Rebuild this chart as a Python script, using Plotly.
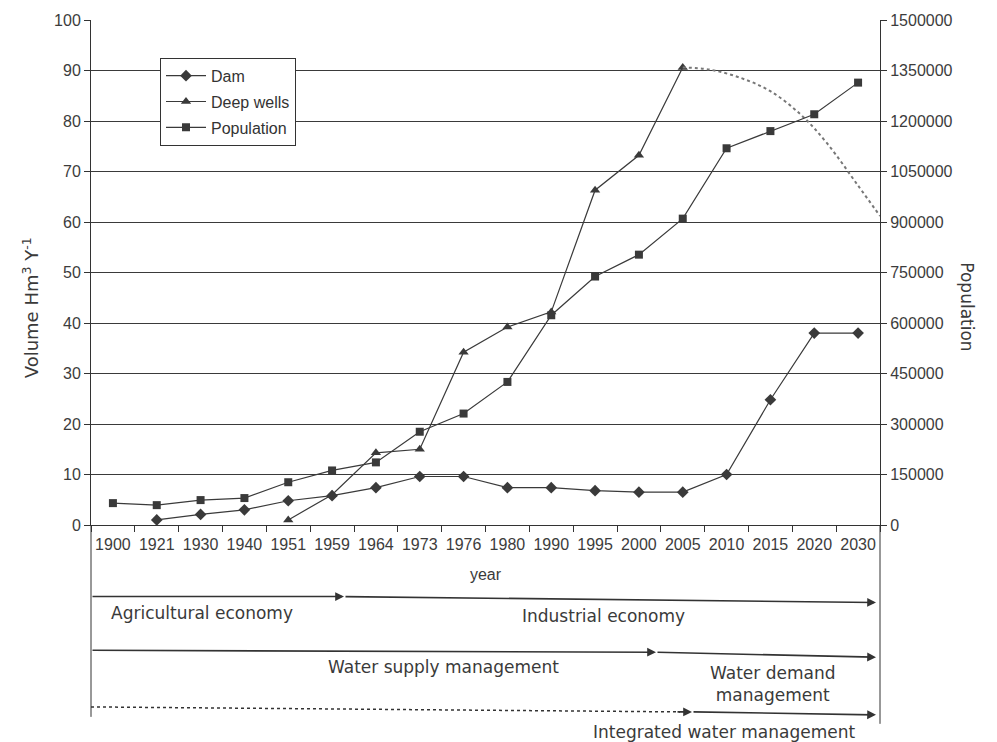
import plotly.graph_objects as go

# ---- data -------------------------------------------------------------
years = ["1900", "1921", "1930", "1940", "1951", "1959", "1964", "1973", "1976",
         "1980", "1990", "1995", "2000", "2005", "2010", "2015", "2020", "2030"]

# volumes in Hm3 per year (left axis)
dam = [None, 1.0, 2.1, 3.0, 4.8, 5.8, 7.4, 9.6, 9.6,
       7.4, 7.4, 6.8, 6.5, 6.5, 10.0, 24.8, 38.0, 38.0]
deep_wells = [None, None, None, None, 1.0, 6.0, 14.3, 15.0, 34.2,
              39.2, 42.2, 66.3, 73.2, 90.6, None, None, None, None]

# inhabitants (right axis)
population = [65000, 59000, 74000, 80000, 127000, 162000, 186000, 277000, 331000,
              425000, 623000, 738000, 803000, 910000, 1119000, 1170000, 1220000, 1314000]

# projected decline of groundwater abstraction after 2005 (category-index units)
proj_index = [13, 13.6, 14.3, 15, 15.7, 16.3, 17, 17.5]
proj_wells = [90.6, 90.2, 88.6, 85.9, 81.2, 75.5, 67.2, 61.2]

# ---- layout helpers (pixel -> paper) ------------------------------------
W, H = 997, 742
ML, MR, MT, MB = 91, 117, 17, 217
PW, PH = W - ML - MR, H - MT - MB


def px(x):
    return (x - ML) / PW


def py(y):
    return (H - MB - y) / PH


INK = "#333333"
TICK_FONT = dict(family="Liberation Sans, Arial, sans-serif", size=16, color="#3c3c3c")
TEXT_FONT = dict(family="DejaVu Sans, sans-serif", size=17, color="#3a3a3a")

x_idx = list(range(len(years)))

fig = go.Figure()

line_style = dict(color="#3a3a3a", width=1.2)

fig.add_trace(go.Scatter(
    x=x_idx, y=dam, name="Dam", mode="lines+markers",
    line=line_style, marker=dict(symbol="diamond", size=9, color="#3a3a3a"),
    legendgroup="a"))
fig.add_trace(go.Scatter(
    x=x_idx, y=deep_wells, name="Deep wells", mode="lines+markers",
    line=line_style, marker=dict(symbol="triangle-up", size=9, color="#3a3a3a"),
    legendgroup="b"))
fig.add_trace(go.Scatter(
    x=x_idx, y=population, name="Population", mode="lines+markers", yaxis="y2",
    line=line_style, marker=dict(symbol="square", size=8, color="#3a3a3a"),
    legendgroup="c"))
fig.add_trace(go.Scatter(
    x=proj_index, y=proj_wells, mode="lines", showlegend=False,
    line=dict(color="#777777", width=2, dash="dot", shape="spline"),
    hoverinfo="skip"))

fig.update_layout(
    width=W, height=H,
    margin=dict(l=ML, r=MR, t=MT, b=MB),
    paper_bgcolor="white", plot_bgcolor="white",
    font=TICK_FONT,
    xaxis=dict(
        range=[-0.5, len(years) - 0.5],
        tickmode="array", tickvals=x_idx, ticktext=years,
        ticks="", showgrid=False, zeroline=False,
        showline=True, linecolor=INK, linewidth=1,
        tickfont=TICK_FONT, ticklabelstandoff=5,
        minor=dict(tickmode="linear", tick0=-0.5, dtick=1, ticks="outside",
                   ticklen=6, tickcolor=INK, showgrid=False),
        title=dict(text="year", font=dict(family="Liberation Sans, Arial, sans-serif",
                                          size=16, color="#3a3a3a"), standoff=16),
    ),
    yaxis=dict(
        range=[0, 100], dtick=10, ticks="outside", ticklen=6, tickcolor=INK,
        showgrid=True, gridcolor="#3a3a3a", gridwidth=1, zeroline=False,
        showline=True, linecolor=INK, linewidth=1, tickfont=TICK_FONT,
    ),
    yaxis2=dict(
        range=[0, 1500000], dtick=150000, tickformat="d", overlaying="y", side="right",
        ticks="outside", ticklen=6, tickcolor=INK, showgrid=False, zeroline=False,
        showline=True, linecolor=INK, linewidth=1, tickfont=TICK_FONT,
    ),
    legend=dict(
        x=px(160), y=py(55), xanchor="left", yanchor="top",
        bgcolor="white", bordercolor=INK, borderwidth=1,
        font=dict(family="Liberation Sans, Arial, sans-serif", size=16, color="#333"),
        tracegroupgap=2, itemwidth=40,
    ),
    showlegend=True,
)

annotations = []

# axis titles
annotations.append(dict(text="Volume Hm<sup>3</sup> Y<sup>-1</sup>", xref="paper", yref="paper",
                        x=px(17), y=py(307), showarrow=False, textangle=-90,
                        font=dict(family="DejaVu Sans, sans-serif", size=18, color="#3a3a3a")))
annotations.append(dict(text="Population", xref="paper", yref="paper",
                        x=px(979), y=py(305), showarrow=False, textangle=90,
                        font=TEXT_FONT))


def arrow(x0, y0, x1, y1):
    annotations.append(dict(
        text="", showarrow=True,
        xref="x domain", yref="y domain", axref="x domain", ayref="y domain",
        x=px(x1), y=py(y1), ax=px(x0), ay=py(y0),
        arrowhead=2, arrowsize=1.1, arrowwidth=1.6, arrowcolor=INK,
        standoff=0, startstandoff=0))


# economy phases
arrow(91, 597, 344, 597)
arrow(344, 597, 876, 603)
# water management phases
arrow(91, 651, 656, 653)
arrow(656, 653, 876, 658)
# integrated management: dotted lead-in, then solid
arrow(676, 713, 692, 713)
arrow(692, 713, 876, 716)


def label(text, x, y, xanchor="center", align="center"):
    annotations.append(dict(text=text, xref="paper", yref="paper", x=px(x), y=py(y),
                            xanchor=xanchor, yanchor="middle", align=align,
                            showarrow=False, font=TEXT_FONT))


label("Agricultural economy", 109, 614, xanchor="left")
label("Industrial economy", 603, 617)
label("Water supply management", 443, 668)
label("Water demand<br>management", 772, 685)
label("Integrated water management", 724, 733)

fig.update_layout(annotations=annotations)

shapes = [
    # vertical frame lines framing the timeline area
    dict(type="line", xref="paper", yref="paper", x0=px(91), x1=px(91), y0=py(525), y1=py(718),
         line=dict(color=INK, width=1)),
    dict(type="line", xref="paper", yref="paper", x0=px(880), x1=px(880), y0=py(525), y1=py(725),
         line=dict(color=INK, width=1)),
    # dotted lead-in of the integrated management phase
    dict(type="line", xref="paper", yref="paper", x0=px(91), x1=px(680), y0=py(708), y1=py(713),
         line=dict(color=INK, width=1.5, dash="dot")),
]
fig.update_layout(shapes=shapes)

fig.write_html("out.html")
